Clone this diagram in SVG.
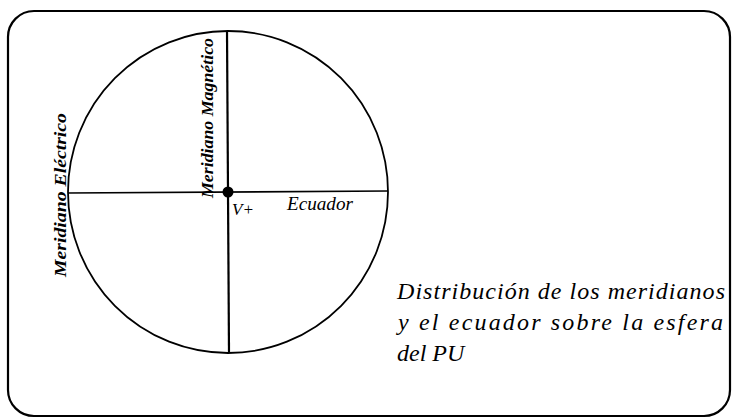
<svg xmlns="http://www.w3.org/2000/svg" width="732" height="419" viewBox="0 0 732 419">
<style>
.ln{stroke:#000;fill:none}
.t{font-family:"Liberation Serif","Times New Roman",serif;font-style:italic;fill:#000}
.lbl{font-weight:bold;font-size:16px}
.cap{font-size:24px}
</style>
<rect width="732" height="419" fill="#fff"/>
<g id="frame"><rect class="ln" x="8" y="11" width="722" height="405" rx="26" ry="26" stroke-width="2.2"/></g>
<g id="sphere"><ellipse class="ln" cx="228" cy="192" rx="160" ry="161" stroke-width="1.8"/></g>
<g id="connectors">
<line class="ln" x1="227" y1="31" x2="229" y2="353" stroke-width="2.2"/>
<line class="ln" x1="68" y1="193" x2="388" y2="191" stroke-width="1.6"/>
</g>
<g id="center"><circle cx="228" cy="192" r="5.5" fill="#000"/></g>
<g id="magnetico"><text class="t lbl" transform="translate(213,198) rotate(-90)" textLength="160" lengthAdjust="spacingAndGlyphs">Meridiano Magnético</text></g>
<g id="electrico"><text class="t lbl" transform="translate(66,277) rotate(-90)" textLength="164" lengthAdjust="spacingAndGlyphs">Meridiano Eléctrico</text></g>
<g id="vplus"><text class="t" x="232" y="215" font-size="17">V+</text></g>
<g id="ecuador"><text class="t" x="287" y="210" font-size="18" textLength="66" lengthAdjust="spacingAndGlyphs">Ecuador</text></g>
<g id="caption">
<text class="t cap" x="397" y="299" textLength="328">Distribución de los meridianos</text>
<text class="t cap" x="398" y="330" textLength="325">y el ecuador sobre la esfera</text>
<text class="t cap" x="397" y="361">del PU</text>
</g>
</svg>
